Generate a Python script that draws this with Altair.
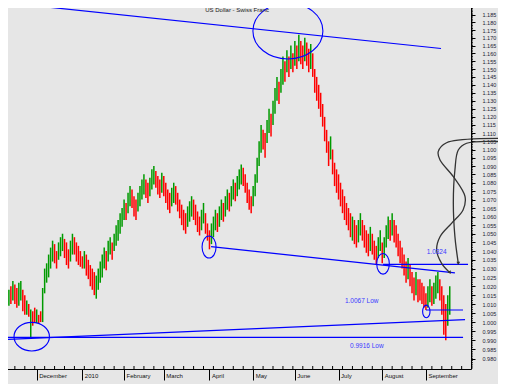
import json
import altair as alt
import pandas as pd

# ---------------- data (trading-day index, 0 = 5 Nov 2009) ----------------
hi = [
    # Nov
    1.018, 1.020, 1.022, 1.016, 1.018, 1.020, 1.023, 1.021, 1.019, 1.022, 1.023, 1.018, 1.015, 1.012, 1.010, 1.007, 1.006, 1.008,
    # Dec
    1.007, 1.004, 1.006, 1.019, 1.030, 1.033, 1.038, 1.042, 1.046, 1.044, 1.040, 1.045, 1.048, 1.050, 1.047, 1.045, 1.041, 1.046, 1.050, 1.048, 1.045, 1.043, 1.040,
    # Jan
    1.037, 1.040, 1.038, 1.035, 1.032, 1.030, 1.028, 1.026, 1.030, 1.034, 1.038, 1.042, 1.040, 1.046, 1.048, 1.045, 1.050, 1.055, 1.058, 1.062, 1.065,
    # Feb
    1.070, 1.068, 1.074, 1.078, 1.076, 1.072, 1.070, 1.074, 1.078, 1.082, 1.085, 1.082, 1.080, 1.083, 1.088, 1.090, 1.087, 1.084, 1.082, 1.086,
    # Mar
    1.084, 1.080, 1.076, 1.074, 1.077, 1.080, 1.078, 1.074, 1.070, 1.067, 1.064, 1.062, 1.066, 1.069, 1.072, 1.070, 1.067, 1.063, 1.060, 1.064, 1.068, 1.062, 1.056,
    # Apr
    1.052, 1.056, 1.060, 1.064, 1.062, 1.066, 1.070, 1.068, 1.072, 1.076, 1.074, 1.078, 1.082, 1.080, 1.084, 1.088, 1.091, 1.089, 1.085, 1.080, 1.076, 1.072,
    # May
    1.078, 1.085, 1.095, 1.105, 1.115, 1.112, 1.110, 1.118, 1.125, 1.122, 1.130, 1.138, 1.145, 1.142, 1.150, 1.158, 1.155, 1.162, 1.158, 1.165, 1.160,
    # Jun
    1.168, 1.165, 1.172, 1.168, 1.165, 1.170, 1.167, 1.163, 1.166, 1.160, 1.150, 1.145, 1.140, 1.135, 1.128, 1.120, 1.112, 1.105, 1.108, 1.100, 1.092, 1.088,
    # Jul
    1.085, 1.080, 1.076, 1.072, 1.068, 1.065, 1.062, 1.060, 1.058, 1.055, 1.058, 1.062, 1.058, 1.055, 1.052, 1.050, 1.054, 1.050, 1.046, 1.043, 1.048, 1.052,
    # Aug
    1.045, 1.048, 1.055, 1.060, 1.058, 1.062, 1.058, 1.055, 1.050, 1.046, 1.042, 1.038, 1.034, 1.036, 1.032, 1.028, 1.025, 1.028, 1.024, 1.024, 1.022, 1.020,
    # Sep
    1.016, 1.020, 1.024, 1.020, 1.022, 1.026, 1.028, 1.024, 1.020, 1.015, 1.010, 1.015, 1.020,
]
lo = [
    1.012, 1.008, 1.004, 1.005, 1.009, 1.010, 1.012, 1.010, 1.008, 1.009, 1.012, 1.006, 1.004, 1.004, 1.003, 0.9916, 0.998, 1.000,
    0.9995, 0.999, 1.000, 1.000, 1.016, 1.022, 1.025, 1.030, 1.034, 1.033, 1.030, 1.035, 1.037, 1.040, 1.036, 1.032, 1.030, 1.034, 1.038, 1.038, 1.034, 1.032, 1.031,
    1.030, 1.030, 1.026, 1.024, 1.020, 1.018, 1.015, 1.013, 1.018, 1.022, 1.025, 1.030, 1.029, 1.034, 1.038, 1.035, 1.040, 1.043, 1.046, 1.050, 1.054,
    1.058, 1.058, 1.062, 1.066, 1.065, 1.060, 1.058, 1.063, 1.066, 1.070, 1.073, 1.071, 1.068, 1.072, 1.076, 1.079, 1.077, 1.073, 1.071, 1.074,
    1.072, 1.068, 1.064, 1.062, 1.066, 1.068, 1.067, 1.063, 1.059, 1.055, 1.052, 1.050, 1.054, 1.057, 1.060, 1.058, 1.055, 1.051, 1.049, 1.052, 1.056, 1.050, 1.046,
    1.041, 1.044, 1.048, 1.052, 1.051, 1.054, 1.058, 1.057, 1.060, 1.064, 1.063, 1.066, 1.070, 1.069, 1.072, 1.076, 1.079, 1.078, 1.074, 1.068, 1.064, 1.062,
    1.066, 1.072, 1.080, 1.090, 1.098, 1.100, 1.095, 1.104, 1.110, 1.108, 1.115, 1.122, 1.130, 1.128, 1.135, 1.140, 1.142, 1.148, 1.145, 1.150, 1.148,
    1.152, 1.150, 1.155, 1.153, 1.150, 1.155, 1.152, 1.148, 1.150, 1.145, 1.135, 1.130, 1.125, 1.120, 1.114, 1.105, 1.098, 1.090, 1.094, 1.085, 1.078, 1.074,
    1.070, 1.066, 1.062, 1.058, 1.055, 1.052, 1.048, 1.046, 1.044, 1.042, 1.045, 1.049, 1.046, 1.042, 1.039, 1.037, 1.040, 1.038, 1.035, 1.032, 1.036, 1.040,
    1.033, 1.036, 1.042, 1.047, 1.046, 1.049, 1.045, 1.042, 1.037, 1.033, 1.030, 1.026, 1.022, 1.024, 1.020, 1.016, 1.012, 1.015, 1.011, 1.012, 1.010, 1.008,
    1.0067, 1.008, 1.011, 1.009, 1.010, 1.013, 1.016, 1.012, 1.004, 0.993, 0.990, 0.998, 1.004,
]
up = [
    1, 0, 0, 1, 1, 0, 1, 0, 0, 1, 1, 0, 0, 1, 0, 1, 0, 0,
    1, 0, 0, 1, 1, 1, 1, 1, 1, 0, 0, 1, 1, 1, 0, 0, 0, 1, 1, 0, 0, 0, 0,
    0, 1, 0, 0, 0, 0, 0, 1, 1, 1, 1, 1, 0, 1, 1, 0, 1, 1, 1, 1, 1,
    1, 0, 1, 1, 0, 0, 0, 1, 1, 1, 1, 0, 0, 1, 1, 1, 0, 0, 0, 1,
    0, 0, 0, 0, 1, 1, 0, 0, 0, 0, 0, 0, 1, 1, 1, 0, 0, 0, 0, 1, 1, 0, 0,
    0, 1, 1, 1, 0, 1, 1, 0, 1, 1, 0, 1, 1, 0, 1, 1, 1, 0, 0, 0, 0, 0,
    1, 1, 1, 1, 1, 0, 0, 1, 1, 0, 1, 1, 1, 0, 1, 1, 0, 1, 0, 1, 0,
    1, 0, 1, 0, 0, 1, 0, 0, 1, 0, 0, 0, 0, 0, 0, 0, 0, 0, 1, 0, 0, 0,
    0, 0, 0, 0, 0, 0, 0, 1, 0, 0, 1, 1, 0, 0, 0, 0, 1, 0, 0, 0, 1, 1,
    0, 1, 1, 1, 0, 1, 0, 0, 0, 0, 0, 0, 0, 1, 0, 0, 0, 1, 0, 0, 0, 0,
    0, 1, 1, 0, 1, 1, 1, 0, 0, 0, 0, 1, 1,
]

month_idx = [-4, 18, 41, 62, 82, 105, 127, 148, 170, 192, 214]
month_names = ["November", "December", "2010", "February", "March", "April",
               "May", "June", "July", "August", "September"]
week_idx = list(range(2, 237, 5))
y_major = [round(0.980 + 0.005 * k, 3) for k in range(42)]
y_minor = [round(0.975 + 0.001 * k, 3) for k in range(220)]

# trend / level lines  (index, price)
line_grp = ["top", "top", "rise", "rise", "low9916", "low9916", "apr", "apr",
            "lvl10324", "lvl10324", "lvl10067", "lvl10067"]
line_i = [-0.48, 221.6, 1.0, 233.7, -0.48, 232.7, 105.8, 228.6, 192.4, 235.2, 214.0, 232.7]
line_p = [1.1933, 1.1631, 0.9904, 1.0014, 0.9916, 0.9916, 1.0426, 1.0275, 1.0324, 1.0324, 1.0067, 1.0067]

# ellipses (centre index, centre price)
ell_i = [144.5, 15.5, 104.8, 192.4, 214.2]
ell_p = [1.1744, 0.9920, 1.0423, 1.0327, 1.0059]
ell_rx = [35, 17.7, 7, 6.3, 3.7]
ell_ry = [28, 14.3, 11, 10.3, 6.3]

# hand-drawn curly arrows
c1_i = [253.8, 224.4, 220.2, 221.1, 227.8, 233.7, 232.7, 227.0, 221.1, 219.4, 221.9, 226.1]
c1_p = [1.1068, 1.1041, 1.0987, 1.0936, 1.0836, 1.0717, 1.0639, 1.0562, 1.0483, 1.0406, 1.0330, 1.0277]
c2_i = [253.8, 234.5, 230.3, 228.6, 227.8, 228.6, 230.3]
c2_p = [1.1047, 1.1038, 1.0997, 1.0876, 1.0678, 1.0483, 1.0330]

label_text = ["1.0324", "1.0067 Low", "0.9916 Low"]
label_i = [214.4, 173.2, 175.8]
label_p = [1.0393, 1.0119, 0.9871]

title_text = "US Dollar - Swiss Franc"
title_i, title_p = 118.9, 1.1881

# ---------------- build ----------------
FONT = "Liberation Sans"
BG = "#e6e6e6"
W, H = 471, 369

xs = alt.Scale(domain=[-0.48, 236.7], nice=False, zero=False)
ys = alt.Scale(type="log", domain=[0.97443, 1.19467], nice=False, zero=False)

label_expr = "%s[indexof(%s, datum.value)]" % (json.dumps(month_names), json.dumps(month_idx))
x_axis = alt.Axis(values=month_idx, labelExpr=label_expr, title=None, grid=False,
                  tickSize=11, labelAlign="left", labelBaseline="top", labelPadding=-8,
                  labelOffset=2, labelFontSize=6, labelColor="#111", labelFont=FONT,
                  domainColor="#000", tickColor="#000", labelOverlap=False, labelBound=False,
                  labelFlush=False)
y_axis = alt.Axis(orient="right", values=y_major, format=".3f", title=None, grid=False,
                  tickSize=4, labelPadding=7, labelFontSize=5.5, labelColor="#222233",
                  labelFont=FONT, domainColor="#000", tickColor="#000", labelOverlap=False,
                  labelBound=False, labelFlush=False)


def X(field="i"):
    return alt.X(f"{field}:Q", scale=xs, axis=x_axis)


def Y(field="p"):
    return alt.Y(f"{field}:Q", scale=ys, axis=y_axis)


bars_df = pd.DataFrame({"i": list(range(len(hi))), "hi": hi, "lo": lo,
                        "d": ["up" if u else "down" for u in up]})
bars = alt.Chart(bars_df).mark_rule(strokeWidth=1.5).encode(
    x=X(), y=Y("lo"), y2="hi:Q",
    color=alt.Color("d:N", scale=alt.Scale(domain=["up", "down"], range=["#009a00", "#ff0000"]), legend=None),
)

lines_df = pd.DataFrame({"i": line_i, "p": line_p, "g": line_grp, "k": list(range(len(line_i)))})
lines = alt.Chart(lines_df).mark_line(color="#0000ff", strokeWidth=1.2).encode(
    x=X(), y=Y(), detail="g:N", order="k:Q")

paths = ["M -1 0 A 1 %.3f 0 1 1 1 0 A 1 %.3f 0 1 1 -1 0 Z" % (ry / rx, ry / rx)
         for rx, ry in zip(ell_rx, ell_ry)]
ell_df = pd.DataFrame({"i": ell_i, "p": ell_p, "shape": paths,
                       "sz": [(2 * rx) ** 2 for rx in ell_rx]})
ellipses = alt.Chart(ell_df).mark_point(filled=False, color="#0000ff", strokeWidth=1.1, opacity=1).encode(
    x=X(), y=Y(), shape=alt.Shape("shape:N", scale=None), size=alt.Size("sz:Q", scale=None))

curves_df = pd.DataFrame({
    "i": c1_i + c2_i, "p": c1_p + c2_p,
    "g": ["a"] * len(c1_i) + ["b"] * len(c2_i),
    "k": list(range(len(c1_i))) + list(range(len(c2_i))),
})
curves = alt.Chart(curves_df).mark_line(color="#333333", strokeWidth=1.3, interpolate="catmull-rom").encode(
    x=X(), y=Y(), detail="g:N", order="k:Q")

heads_df = pd.DataFrame({"i": [c1_i[-1], c2_i[-1]], "p": [c1_p[-1], c2_p[-1]], "a": [-30, 0]})
heads = alt.Chart(heads_df).mark_point(shape="triangle-down", filled=True, color="#333333", size=14, opacity=1).encode(
    x=X(), y=Y(), angle=alt.Angle("a:Q", scale=None))

labels_df = pd.DataFrame({"i": label_i, "p": label_p, "t": label_text})
labels = alt.Chart(labels_df).mark_text(align="left", baseline="middle", fontSize=6.5, font=FONT,
                                        color="#3a3aff").encode(x=X(), y=Y(), text="t:N")

title_df = pd.DataFrame({"i": [title_i], "p": [title_p], "t": [title_text]})
title = alt.Chart(title_df).mark_text(align="center", baseline="middle", fontSize=6, font=FONT,
                                      color="#222222").encode(x=X(), y=Y(), text="t:N")

wk_df = pd.DataFrame({"i": week_idx})
wticks = alt.Chart(wk_df).mark_rule(color="#000", strokeWidth=1).encode(
    x=X(), y=alt.value(H - 3), y2=alt.value(H))

ymin_df = pd.DataFrame({"p": y_minor})
yticks = alt.Chart(ymin_df).mark_rule(color="#000", strokeWidth=0.8).encode(
    y=Y(), x=alt.value(W), x2=alt.value(W + 2))

chart = alt.layer(bars, lines, ellipses, curves, heads, labels, title, wticks, yticks).properties(
    width=W, height=H,
    padding={"left": -8, "top": -8, "right": 27, "bottom": 15},
    autosize=alt.AutoSizeParams(type="none"),
    background=BG,
).configure_view(fill=BG, stroke=None)

chart.save("out.html", embed_options={"renderer": "svg", "actions": False})
